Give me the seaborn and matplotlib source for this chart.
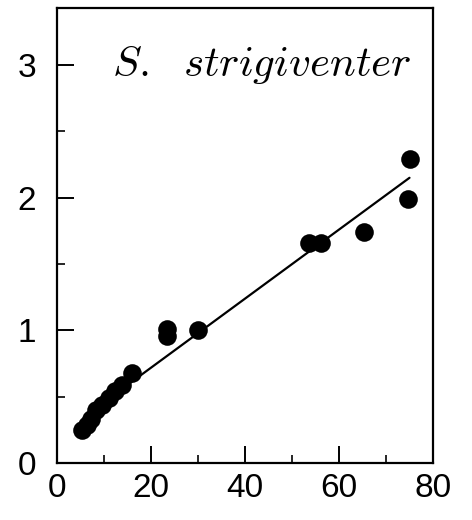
import matplotlib
matplotlib.use("Agg")
import matplotlib.pyplot as plt
import seaborn as sns
import pandas as pd
from matplotlib.ticker import MultipleLocator

# Observations
x_vals = [5.3, 6.3, 7.3, 8.4, 9.5, 11.0, 12.4, 13.8, 15.9, 23.3, 23.4, 30.1, 53.7, 56.1, 65.3, 74.7, 75.1]
y_vals = [0.25, 0.29, 0.33, 0.40, 0.44, 0.49, 0.54, 0.59, 0.68, 0.96, 1.01, 1.00, 1.66, 1.66, 1.74, 1.99, 2.29]

# Fitted line end points
fit_x = [7.0, 75.0]
fit_y = [0.38, 2.15]

x_ticks = [0, 20, 40, 60, 80]
y_ticks = [0, 1, 2, 3]
species = "S.\\ \\ strigiventer"

sns.set_theme(style="ticks")
plt.rcParams["font.family"] = ["Liberation Sans", "DejaVu Sans"]
plt.rcParams["mathtext.fontset"] = "cm"

fig = plt.figure(figsize=(4.72, 5.2), dpi=100)
ax = fig.add_axes([57 / 472, 1 - 463 / 520, (433 - 57) / 472, (463 - 8) / 520])

df = pd.DataFrame({"x": x_vals, "y": y_vals})
fit = pd.DataFrame({"x": fit_x, "y": fit_y})

sns.lineplot(data=fit, x="x", y="y", ax=ax, color="black", linewidth=1.6)
sns.scatterplot(data=df, x="x", y="y", ax=ax, color="black", s=180,
                edgecolor="black", linewidth=0, zorder=3)

ax.set_xlim(0, 80)
ax.set_ylim(0, 3.43)
ax.set_xticks(x_ticks)
ax.set_yticks(y_ticks)
ax.xaxis.set_minor_locator(MultipleLocator(10))
ax.yaxis.set_minor_locator(MultipleLocator(0.5))
ax.tick_params(which="major", direction="in", length=12, width=1.4,
               labelsize=24, colors="black")
ax.tick_params(axis="x", which="major", pad=7)
ax.tick_params(axis="y", which="major", pad=15)
ax.tick_params(which="minor", direction="in", length=6, width=1.4)
ax.tick_params(top=False, right=False, which="both")
for sp in ax.spines.values():
    sp.set_visible(True)
    sp.set_linewidth(1.6)
    sp.set_color("black")
ax.set_xlabel("")
ax.set_ylabel("")

ax.text(0.543, 0.875, r"$\mathit{" + species + "}$", transform=ax.transAxes,
        ha="center", va="center", fontsize=31, color="black")

fig.savefig("out.png", dpi=100, facecolor="white")
